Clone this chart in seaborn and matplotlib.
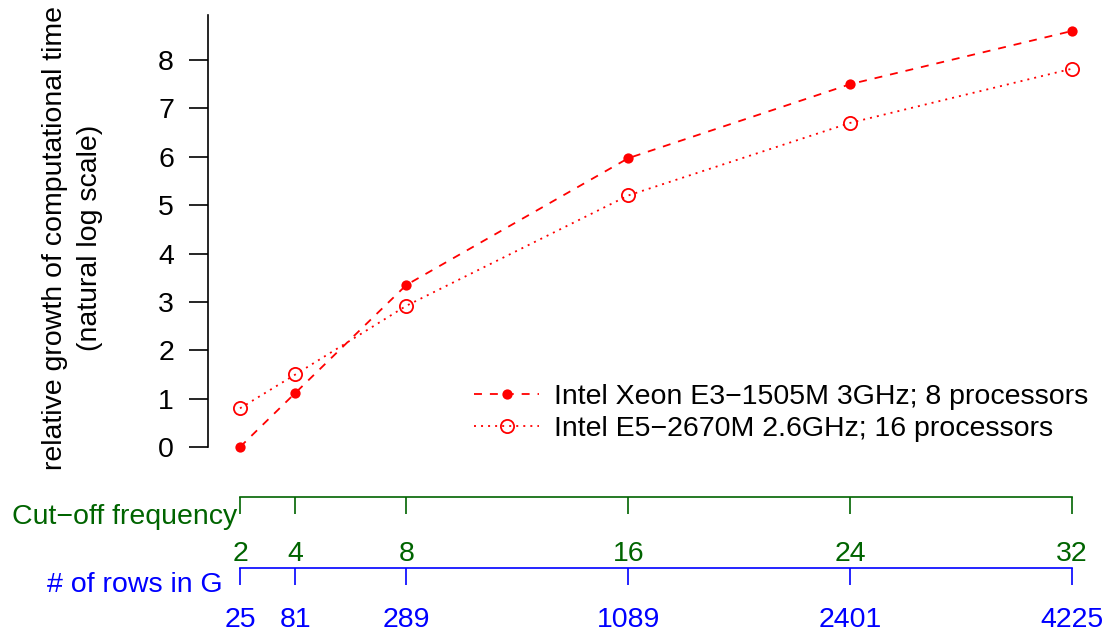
import matplotlib
matplotlib.use("Agg")
import matplotlib.pyplot as plt
import seaborn as sns
import pandas as pd
from matplotlib.lines import Line2D

cutoff = [2, 4, 8, 16, 24, 32]
rows_in_g = [25, 81, 289, 1089, 2401, 4225]
xeon = [0.0, 1.12, 3.35, 5.97, 7.50, 8.60]
e5 = [0.80, 1.50, 2.92, 5.20, 6.70, 7.82]
y_ticks = [0, 1, 2, 3, 4, 5, 6, 7, 8]
label_xeon = "Intel Xeon E3\u22121505M 3GHz; 8 processors"
label_e5 = "Intel E5\u22122670M 2.6GHz; 16 processors"

sns.set_theme(style="ticks")
plt.rcParams["font.family"] = ["Liberation Sans", "DejaVu Sans"]
plt.rcParams["axes.unicode_minus"] = True
plt.rcParams["text.color"] = "black"
plt.rcParams["axes.labelcolor"] = "black"

FS = 20.5
LW = 1.3
DASH = (0, (4.4, 4.4))
DOT = (0, (1.1, 2.8))

W, H = 1107, 632
fig = plt.figure(figsize=(W / 100, H / 100), dpi=100)

def fx(px):
    return px / W

def fy(py):
    return 1 - py / H

# main axes: pixel x 208..1090, y 15..470
ax = fig.add_axes([fx(208), fy(470), fx(1090) - fx(208), fy(15) - fy(470)])
ax.patch.set_alpha(0)
xscale = (1072 - 240) / 30.0
yscale = (447 - 60) / 8.0
ax.set_xlim(2 - 32 / xscale, 32 + 18 / xscale)
ax.set_ylim(-23 / yscale, 8 + 45 / yscale)

df = pd.DataFrame({"cutoff": cutoff, "xeon": xeon, "e5": e5})
sns.lineplot(data=df, x="cutoff", y="xeon", ax=ax, color="red", linestyle=DASH,
             linewidth=LW, marker="o", markersize=7.4, markeredgewidth=0,
             markerfacecolor="red")
sns.lineplot(data=df, x="cutoff", y="e5", ax=ax, color="red", linestyle=DOT,
             linewidth=LW, marker="o", markersize=9.5, markeredgewidth=1.3,
             markerfacecolor="none", markeredgecolor="red")

for s in ["top", "right", "bottom"]:
    ax.spines[s].set_visible(False)
ax.spines["left"].set_bounds(0, 8 + 45 / yscale)
ax.spines["left"].set_color("black")
ax.spines["left"].set_linewidth(1.2)
ax.set_xticks([])
ax.set_yticks(y_ticks)
ax.set_yticklabels([str(t) for t in y_ticks])
ax.tick_params(axis="y", direction="out", length=13.5, width=1.2, color="black",
               labelsize=FS, pad=11, labelcolor="black")
ax.set_xlabel("")
ax.set_ylabel("")

fig.text(fx(55), fy(238), "relative growth of computational time", rotation=90,
         ha="center", va="center", fontsize=FS, color="black")
fig.text(fx(90), fy(238), "(natural log scale)", rotation=90,
         ha="center", va="center", fontsize=FS, color="black")

handles = [
    Line2D([], [], color="red", linestyle=DASH, linewidth=LW, marker="o",
           markersize=7.4, markeredgewidth=0, markerfacecolor="red"),
    Line2D([], [], color="red", linestyle=DOT, linewidth=LW, marker="o",
           markersize=9.5, markeredgewidth=1.3, markerfacecolor="none", markeredgecolor="red"),
]
leg = ax.legend(handles, [label_xeon, label_e5], loc="center left",
                bbox_to_anchor=(fx(474), fy(413)), bbox_transform=fig.transFigure,
                frameon=False, fontsize=FS, handlelength=2.3, handletextpad=0.5,
                labelspacing=0.22, borderpad=0, borderaxespad=0)
for t in leg.get_texts():
    t.set_color("black")

# secondary axes
def sec_axis(py_line, color, labels, title, title_px, pad):
    a = fig.add_axes([fx(208), fy(py_line), fx(1090) - fx(208), 0.0001])
    a.set_xlim(ax.get_xlim())
    a.patch.set_alpha(0)
    for s in ["top", "right", "left"]:
        a.spines[s].set_visible(False)
    a.spines["bottom"].set_bounds(2, 32)
    a.spines["bottom"].set_color(color)
    a.spines["bottom"].set_linewidth(1.2)
    a.set_yticks([])
    a.set_xticks(cutoff)
    a.set_xticklabels(labels)
    a.tick_params(axis="x", direction="out", length=12.5, width=1.2, color=color,
                  labelcolor=color, labelsize=FS, pad=pad)
    fig.text(fx(title_px[0]), fy(title_px[1]), title, ha="right", va="center",
             fontsize=FS, color=color)
    return a

sec_axis(497, "#006400", [str(c) for c in cutoff], "Cut\u2212off frequency", (237, 517), 19.5)
sec_axis(568, "blue", [str(r) for r in rows_in_g], "# of rows in G", (223, 585), 15.5)

fig.savefig("out.png", dpi=100, facecolor="white")
